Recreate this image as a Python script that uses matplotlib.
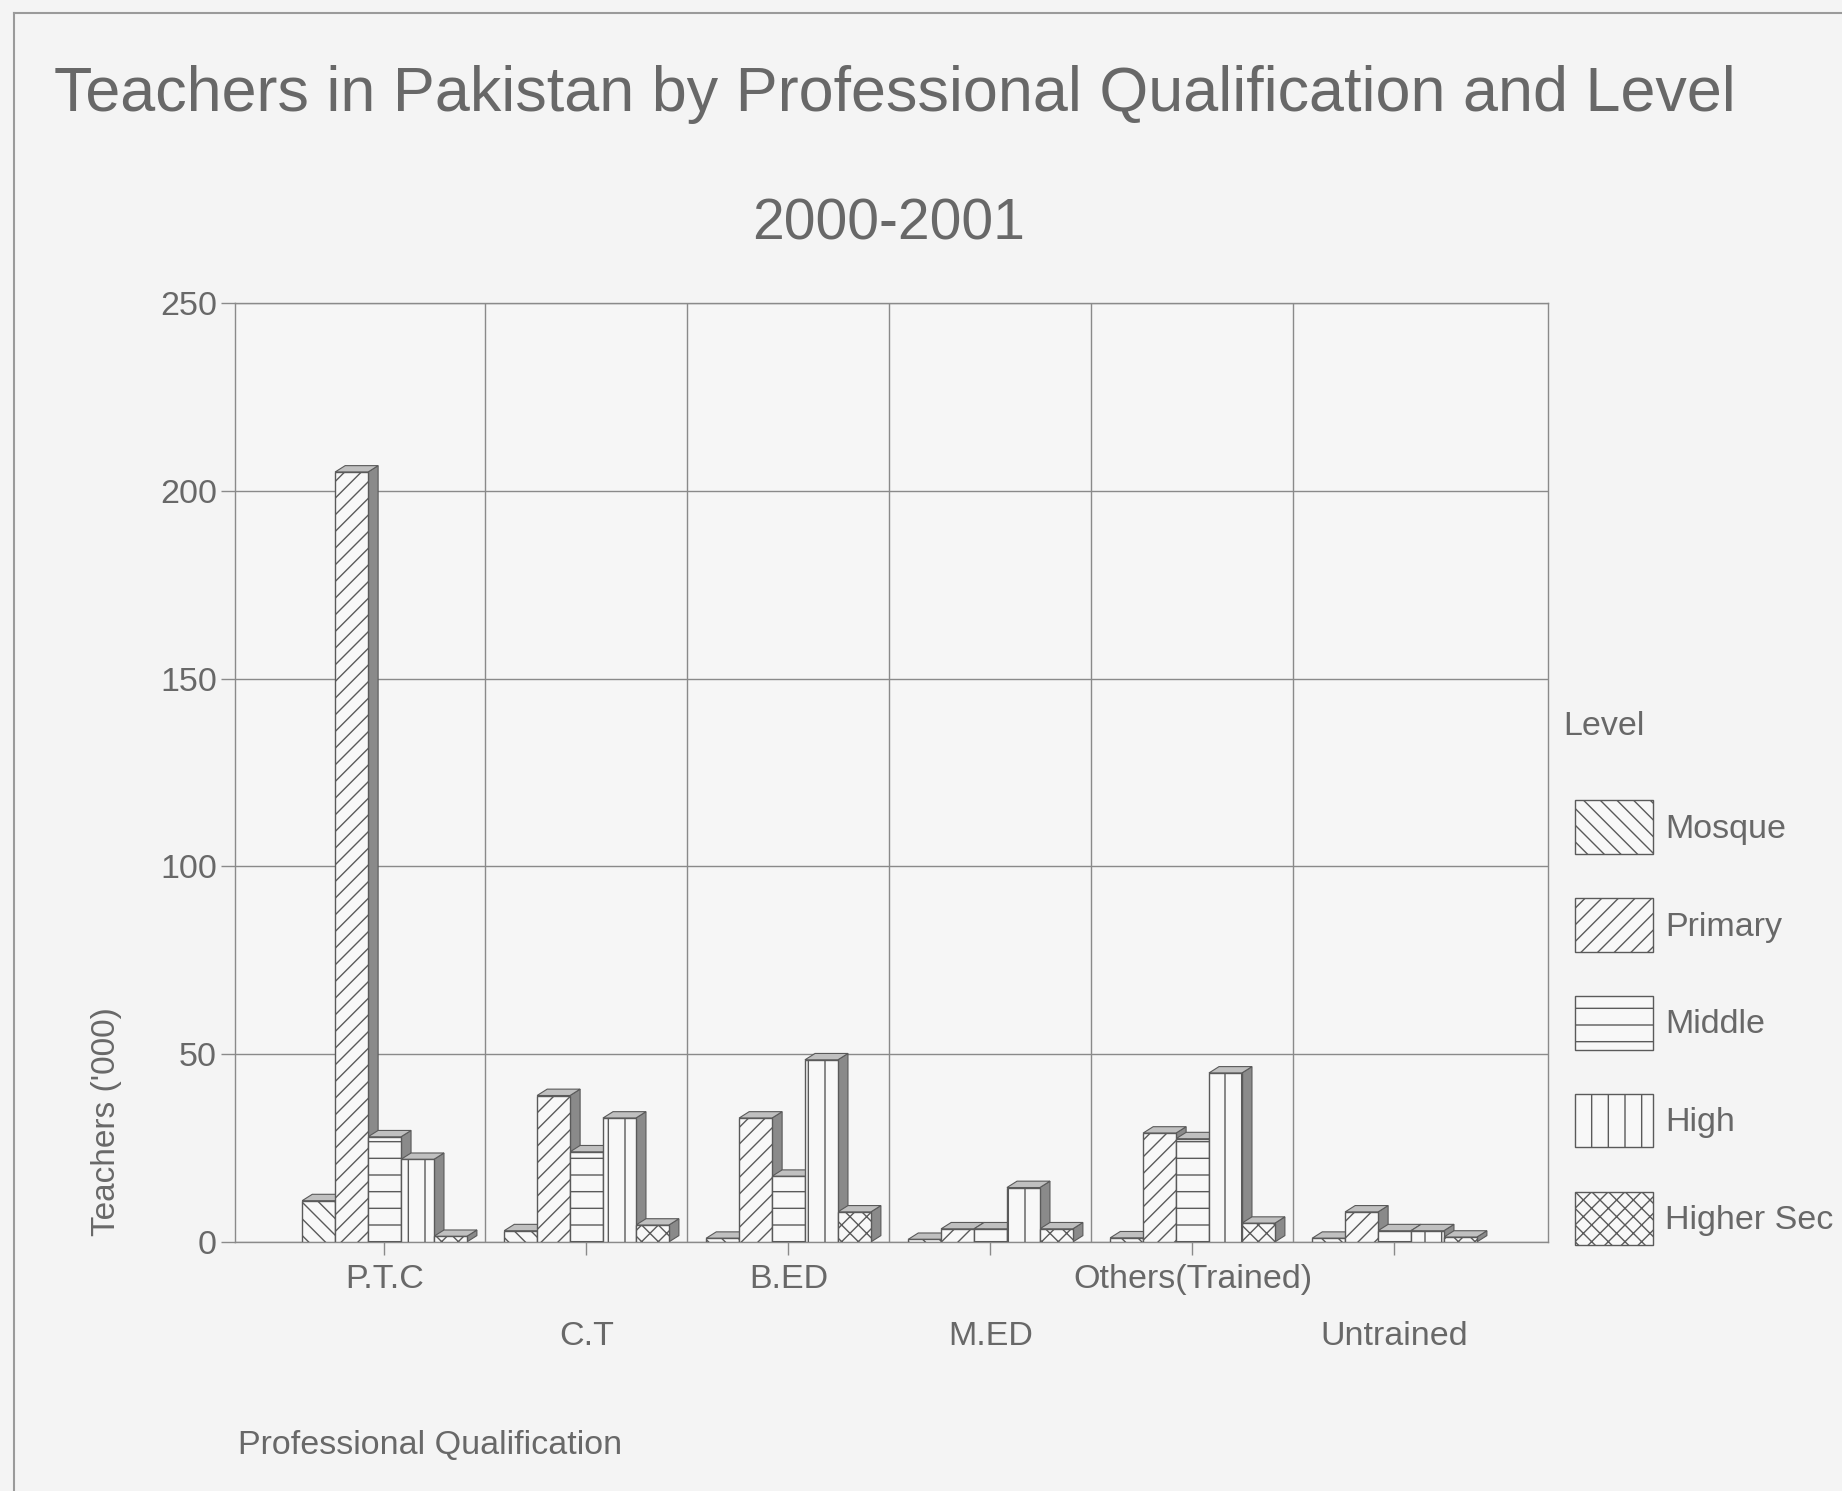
import numpy as np
import matplotlib
matplotlib.use("Agg")
import matplotlib.pyplot as plt
from matplotlib.patches import Patch, Polygon
from matplotlib.lines import Line2D

categories = ["P.T.C", "C.T", "B.ED", "M.ED", "Others(Trained)", "Untrained"]
levels = ["Mosque", "Primary", "Middle", "High", "Higher Sec"]
mosque = [11, 3, 1, 0.7, 1.1, 1]
primary = [205, 39, 33, 3.5, 29, 8]
middle = [28, 24, 17.5, 3.5, 27.5, 3]
high = [22, 33, 48.5, 14.5, 45, 3]
higher_sec = [1.5, 4.5, 8, 3.5, 5, 1.3]
series = [mosque, primary, middle, high, higher_sec]
hatches = ["\\\\", "//", "-", "|", "xx"]
yticks = [0, 50, 100, 150, 200, 250]

TXT = "#686868"
EDGE = "#5a5a5a"
plt.rcParams["font.family"] = ["Liberation Sans", "DejaVu Sans"]
plt.rcParams["hatch.linewidth"] = 1.0

W, H = 1842, 1491
fig = plt.figure(figsize=(W / 100, H / 100), dpi=100, facecolor="#f4f4f4")
ax = fig.add_axes([235 / W, 1 - 1242 / H, (1548 - 235) / W, (1242 - 303) / H])
ax.set_facecolor("#f6f6f6")

n = len(categories)
x = np.arange(n)
w = 0.163
dx = 0.05
dy = 1.7

for j, (vals, hatch) in enumerate(zip(series, hatches)):
    xc = x + (j - 2) * w
    ax.bar(xc, vals, width=w, facecolor="#f8f8f8", edgecolor=EDGE,
           linewidth=1.0, hatch=hatch, zorder=3)
    for xi, v in zip(xc, vals):
        r = xi + w / 2
        l = xi - w / 2
        side = Polygon([(r, 0), (r + dx, dy), (r + dx, v + dy), (r, v)],
                       closed=True, facecolor="#8a8a8a", edgecolor=EDGE,
                       linewidth=0.8, zorder=2)
        top = Polygon([(l, v), (l + dx, v + dy), (r + dx, v + dy), (r, v)],
                      closed=True, facecolor="#c0c0c0", edgecolor=EDGE,
                      linewidth=0.8, zorder=2)
        ax.add_patch(side)
        ax.add_patch(top)

ax.set_xlim(-0.74, n - 1 + 0.76)
ax.set_ylim(0, 250)
ax.set_yticks(yticks)
ax.yaxis.grid(True, color="#8a8a8a", linewidth=1.0, zorder=0)
ax.vlines(np.arange(n - 1) + 0.5, 0, 250, color="#8a8a8a", linewidth=1.0, zorder=0)
ax.set_axisbelow(True)
for s in ax.spines.values():
    s.set_color("#8a8a8a")
    s.set_linewidth(1.0)

ax.set_xticks(x[::2])
ax.set_xticklabels(categories[::2])
ax.set_xticks(x[1::2], minor=True)
ax.set_xticklabels(categories[1::2], minor=True)
ax.tick_params(axis="x", which="both", length=9, width=1, color="#8a8a8a",
               labelsize=24.5, labelcolor=TXT, pad=7)
ax.tick_params(axis="x", which="minor", pad=48)
ax.tick_params(axis="y", length=10, width=1, color="#8a8a8a",
               labelsize=24.5, labelcolor=TXT, pad=3)

fig.text(54 / W, 1 - 94 / H, "Teachers in Pakistan by Professional Qualification and Level",
         ha="left", va="center", fontsize=45.3, color=TXT)
fig.text(889 / W, 1 - 224 / H, "2000-2001", ha="center", va="center",
         fontsize=41, color=TXT)
fig.text(106 / W, 1 - 1122 / H, "Teachers ('000)", rotation=90, ha="center",
         va="center", fontsize=24, color=TXT)
fig.text(238 / W, 1 - 1445 / H, "Professional Qualification", ha="left",
         va="center", fontsize=24.5, color=TXT)

fig.text(1563 / W, 1 - 726 / H, "Level", ha="left", va="center",
         fontsize=24.5, color=TXT)
handles = [Patch(facecolor="#f8f8f8", edgecolor=EDGE, hatch=h, linewidth=1.0)
           for h in hatches]
leg = fig.legend(handles, levels, loc="upper left",
                 bbox_to_anchor=(1575 / W, 1 - 800 / H), frameon=False,
                 fontsize=24.5, borderpad=0,
                 borderaxespad=0, handlelength=2.3, handleheight=2.05,
                 labelspacing=1.3, handletextpad=0.35)
for t in leg.get_texts():
    t.set_color(TXT)

fig.add_artist(Line2D([14 / W, 1.0], [1 - 13 / H, 1 - 13 / H],
                      transform=fig.transFigure, color="#9a9a9a", linewidth=1.5))
fig.add_artist(Line2D([14 / W, 14 / W], [0.0, 1 - 13 / H],
                      transform=fig.transFigure, color="#9a9a9a", linewidth=1.5))

fig.savefig("out.png", dpi=100, facecolor=fig.get_facecolor())
